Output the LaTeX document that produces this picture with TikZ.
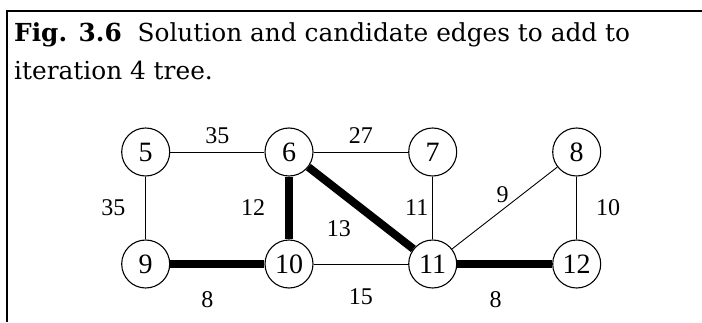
\documentclass[tikz,border=0pt]{standalone}
\usepackage{fontspec}
\newfontfamily\graphfont{Liberation Serif}
\newfontfamily\captionfont{DejaVu Serif}
\usetikzlibrary{positioning}

\begin{document}
\begin{tikzpicture}[x=1pt, y=1pt]
    % Define styles
    \tikzstyle{vertex} = [circle, draw=black, line width=1.1pt, minimum size=48pt, inner sep=0pt, font=\graphfont\fontsize{28}{28}\selectfont]
    \tikzstyle{weight} = [inner sep=2pt, font=\graphfont\fontsize{24}{24}\selectfont]
    \tikzstyle{candidate} = [line width=0.9pt]
    \tikzstyle{solution} = [line width=8pt]
    \tikzstyle{caption} = [anchor=base west, inner sep=0pt, font=\captionfont\fontsize{24.8}{38}\selectfont]

    \useasboundingbox (0,0) rectangle (702,322);

    % Frame
    \draw [line width=2.5pt] (702,311) -- (7,311) -- (7,0);
    \node (title) [caption] at (14,280) {\textbf{Fig. 3.6}\ \ Solution and candidate edges to add to};
    \node (title2) [caption] at (14,242) {iteration 4 tree.};

    % Nodes
    \node (n5) [vertex] at (145.7,170) {5};
    \node (n6) [vertex] at (289,170) {6};
    \node (n7) [vertex] at (432.7,170) {7};
    \node (n8) [vertex] at (576.7,170) {8};
    \node (n9) [vertex] at (145.7,58) {9};
    \node (n10) [vertex] at (289,58) {10};
    \node (n11) [vertex] at (432.7,58) {11};
    \node (n12) [vertex] at (576.7,58) {12};

    % Edges
    \draw [candidate] (n5) -- node[weight, above=6pt] {35} (n6);
    \draw [candidate] (n5) -- node[weight, left=18pt] {35} (n9);
    \draw [candidate] (n6) -- node[weight, above=6pt] {27} (n7);
    \draw [solution] (n6) -- node[weight, left=18pt] {12} (n10);
    \draw [solution] (n6) -- node[weight, below left=7pt and 4pt] {13} (n11);
    \draw [candidate] (n7) -- node[weight, left=2pt] {11} (n11);
    \draw [candidate] (n11) -- node[weight, above=3pt, xshift=-2pt] {9} (n8);
    \draw [candidate] (n8) -- node[weight, right=17pt] {10} (n12);
    \draw [solution] (n9) -- node[weight, below=22pt, xshift=-10pt] {8} (n10);
    \draw [candidate] (n10) -- node[weight, below=22pt] {15} (n11);
    \draw [solution] (n11) -- node[weight, below=22pt, xshift=-9pt] {8} (n12);
\end{tikzpicture}
\end{document}
